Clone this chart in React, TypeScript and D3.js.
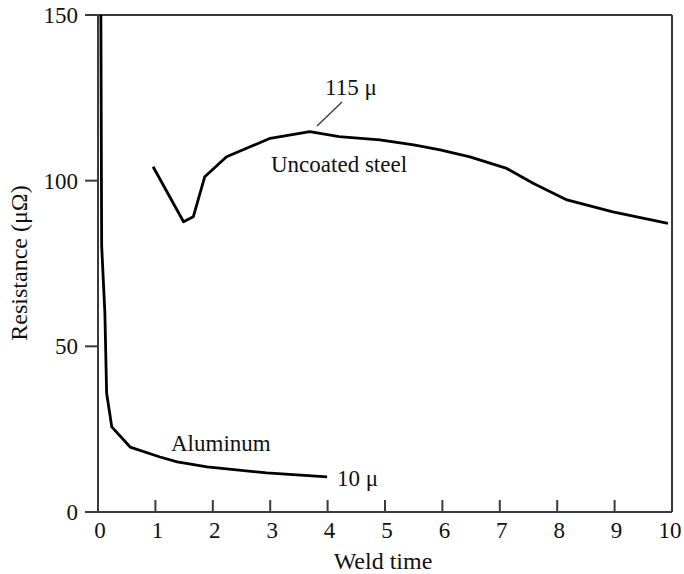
import React from "react";
import * as d3 from "d3";

const xTicks = [0, 1, 2, 3, 4, 5, 6, 7, 8, 9, 10];
const yTicks = [0, 50, 100, 150];

const aluminumX = [0.05, 0.064, 0.12, 0.15, 0.24, 0.56, 1.08, 1.38, 1.9, 2.94, 3.99];
const aluminumY = [150, 80.3, 60, 35.9, 25.7, 19.6, 16.6, 15.1, 13.6, 11.8, 10.6];

const steelX = [0.96, 1.49, 1.66, 1.86, 2.24, 3.0, 3.69, 4.2, 4.91, 5.5, 5.96, 6.48, 7.12, 7.58, 8.17, 8.97, 9.93];
const steelY = [104.2, 87.6, 89.1, 101.2, 107.2, 112.8, 114.8, 113.3, 112.3, 110.8, 109.3, 107.2, 103.7, 99.2, 94.2, 90.6, 87.1];

const labels = {
  xTitle: "Weld time",
  yTitle: "Resistance (\u03bc\u03a9)",
  steel: "Uncoated steel",
  steelNote: "115 \u03bc",
  aluminum: "Aluminum",
  aluminumNote: "10 \u03bc",
};

export default function App() {
  const W = 684;
  const H = 574;
  const left = 98;
  const right = 672;
  const top = 15;
  const bottom = 512;
  const x = d3.scaleLinear().domain([0, 10]).range([left, right]);
  const y = d3.scaleLinear().domain([0, 150]).range([bottom, top]);
  const lineLin = d3
    .line<[number, number]>()
    .x((d) => x(d[0]))
    .y((d) => y(d[1]));
  const alu: [number, number][] = aluminumX.map((v, i) => [v, aluminumY[i]]);
  const steel: [number, number][] = steelX.map((v, i) => [v, steelY[i]]);
  const font = "'Liberation Serif', 'DejaVu Serif', serif";
  const fs = 23;
  const frame = "#3a3a3a";
  const txt = "#111";

  return (
    <svg
      width={W}
      height={H}
      style={{ position: "absolute", left: 0, top: 0, background: "#fff" }}
      fontFamily={font}
    >
      {/* frame */}
      <line x1={left - 13} x2={right} y1={top} y2={top} stroke={frame} strokeWidth={2} />
      <line x1={left - 13} x2={right} y1={bottom} y2={bottom} stroke={frame} strokeWidth={2} />
      <line x1={left} x2={left} y1={top} y2={bottom} stroke={frame} strokeWidth={2} />
      <line x1={right} x2={right} y1={top} y2={bottom} stroke={frame} strokeWidth={2} />
      {/* y ticks */}
      {yTicks.map((t) => (
        <g key={"y" + t}>
          <line x1={left - 13} x2={left} y1={y(t)} y2={y(t)} stroke={frame} strokeWidth={2} />
          <text x={left - 20} y={y(t)} dy="0.35em" textAnchor="end" fontSize={fs} fill={txt}>
            {t}
          </text>
        </g>
      ))}
      {/* x ticks */}
      {xTicks.map((t) => (
        <g key={"x" + t}>
          {t > 0 && t < 10 && (
            <line x1={x(t)} x2={x(t)} y1={bottom} y2={bottom - 12} stroke={frame} strokeWidth={2} />
          )}
          <text x={x(t) + (t === 10 ? -2 : 2)} y={bottom + 26} textAnchor="middle" fontSize={fs} fill={txt}>
            {t}
          </text>
        </g>
      ))}
      <text x={383} y={569} textAnchor="middle" fontSize={fs + 1} fill={txt}>
        {labels.xTitle}
      </text>
      <text
        transform={`translate(27, 263) rotate(-90)`}
        textAnchor="middle"
        fontSize={fs + 1}
        fill={txt}
      >
        {labels.yTitle}
      </text>
      {/* curves */}
      <path d={lineLin(alu) || ""} fill="none" stroke="#000" strokeWidth={2.8} strokeLinejoin="round" />
      <path d={lineLin(steel) || ""} fill="none" stroke="#000" strokeWidth={2.8} strokeLinejoin="round" />
      {/* annotations */}
      <line x1={317} y1={126} x2={342} y2={102} stroke="#444" strokeWidth={1.5} />
      <text x={325} y={95} fontSize={fs} fill={txt}>
        {labels.steelNote}
      </text>
      <text x={271} y={172} fontSize={fs} fill={txt}>
        {labels.steel}
      </text>
      <text x={171} y={451} fontSize={fs} fill={txt}>
        {labels.aluminum}
      </text>
      <text x={337} y={486} fontSize={fs} fill={txt}>
        {labels.aluminumNote}
      </text>
    </svg>
  );
}
